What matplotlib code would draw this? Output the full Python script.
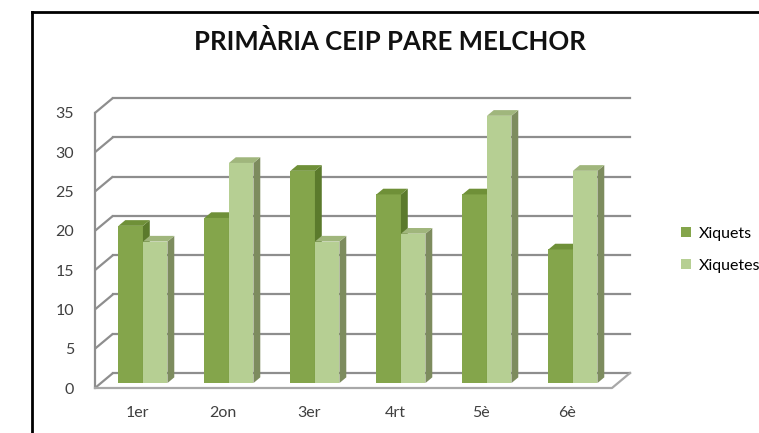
import matplotlib
matplotlib.use("Agg")
import matplotlib.pyplot as plt
from matplotlib.patches import Polygon, Patch
from matplotlib.lines import Line2D

# data
categories = ['1er', '2on', '3er', '4rt', '5è', '6è']
xiquets = [20, 21, 27, 24, 24, 17]
xiquetes = [18, 28, 18, 19, 34, 27]
series_names = ['Xiquets', 'Xiquetes']
yticks = list(range(0, 40, 5))

# styles
front_cols = ['#84A54B', '#B6CF93']
side_cols = ['#5B7A2C', '#7D8C5E']
top_cols = ['#6F9038', '#A0B67C']
grid_col = '#8E8E8E'

plt.rcParams['font.family'] = ['Lato', 'DejaVu Sans']

W, H = 759, 433
fig = plt.figure(figsize=(W / 100, H / 100), dpi=100)

# layout in pixels (front plane of the chart box)
px_left, px_right, px_bottom, px_top = 95, 632, 388, 97
px_cat0, px_cat = 137, 86       # pixel of first category, pitch
px_unit = 7.86                  # pixels per value unit
ax = fig.add_axes([px_left / W, (H - px_bottom) / H,
                   (px_right - px_left) / W, (px_bottom - px_top) / H])
xl = (px_left - px_cat0) / px_cat
xr_box = (px_right - px_cat0) / px_cat
ax.set_xlim(xl, xr_box)
ax.set_ylim(0, (px_bottom - px_top) / px_unit)

# depth vector in data units
Dx = 18 / px_cat
Dv = 15 / px_unit
xr = (612 - px_cat0) / px_cat
ymax = yticks[-1]

lw = 1.6
# walls and gridlines
for v in yticks:
    ax.plot([xl, xl + Dx], [v, v + Dv], color=grid_col, lw=lw, clip_on=False,
            solid_capstyle='butt', zorder=1)
    ax.plot([xl + Dx, xr + Dx], [v + Dv, v + Dv], color=grid_col, lw=lw,
            clip_on=False, zorder=1)
ax.plot([xl, xl], [0, ymax], color=grid_col, lw=lw, clip_on=False, zorder=1)
ax.plot([xl, xr, xr + Dx], [0, 0, Dv], color='#A8A8A8', lw=lw, clip_on=False, zorder=1)

# bars with fake depth
bw = 24.5 / px_cat
f0, fd = 0.33, 0.38
bx, by = f0 * Dx, f0 * Dv
ddx, ddv = fd * Dx, fd * Dv
z = 2
for i in range(len(categories)):
    for s, vals in enumerate([xiquets, xiquetes]):
        v = vals[i]
        x0 = i - bw + s * bw + bx
        x1 = x0 + bw
        ax.bar(x0, v, width=bw, bottom=by, align='edge', color=front_cols[s],
               linewidth=0, zorder=z, clip_on=False)
        side = Polygon([(x1, by), (x1 + ddx, by + ddv), (x1 + ddx, by + v + ddv), (x1, by + v)],
                       closed=True, facecolor=side_cols[s], edgecolor='none', zorder=z, clip_on=False)
        top = Polygon([(x0, by + v), (x1, by + v), (x1 + ddx, by + v + ddv), (x0 + ddx, by + v + ddv)],
                      closed=True, facecolor=top_cols[s], edgecolor='none', zorder=z, clip_on=False)
        ax.add_patch(side)
        ax.add_patch(top)
        z += 1

for sp in ax.spines.values():
    sp.set_visible(False)
ax.set_facecolor('none')
ax.set_yticks(yticks)
ax.set_xticks(range(len(categories)))
ax.set_xticklabels(categories)
ax.tick_params(axis='y', length=0, pad=15, labelsize=11.5, labelcolor='#404040')
ax.tick_params(axis='x', length=0, pad=13, labelsize=11.5, labelcolor='#404040')

fig.text(390 / W, 1 - 41 / H, 'PRIMÀRIA CEIP PARE MELCHOR', ha='center', va='center',
         fontsize=18.5, fontweight='bold', color='#111111')

handles = [Patch(facecolor=front_cols[0]), Patch(facecolor=front_cols[1])]
fig.legend(handles, series_names, loc='upper left', bbox_to_anchor=(681 / W, 1 - 227 / H),
           frameon=False, fontsize=11.5, handlelength=0.6, handleheight=0.6,
           handletextpad=0.5, labelspacing=1.1, borderpad=0, borderaxespad=0)

# outer frame (left and top edges only)
fig.add_artist(Line2D([32 / W, 32 / W], [0, 1 - 12 / H], color='black', lw=2))
fig.add_artist(Line2D([32 / W, 1], [1 - 12 / H, 1 - 12 / H], color='black', lw=2))

fig.savefig('out.png', dpi=100)
